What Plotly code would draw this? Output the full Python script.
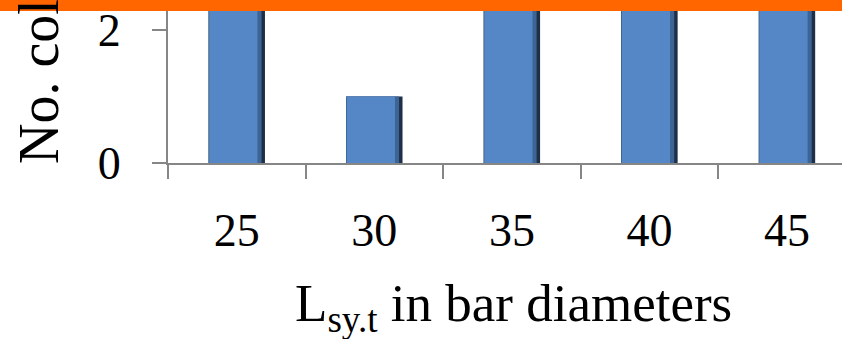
import plotly.graph_objects as go

categories = ["25", "30", "35", "40", "45"]
counts = [3, 1, 3, 3, 3]
y_ticks = [0, 2]
x_title = "L<sub>sy.t</sub> in bar diameters"
y_title = "No. columns"

W, H = 842, 339
ML, MB = 168, 176
plot_h = H - MB
FONT = "Liberation Serif, Times New Roman, serif"

fig = go.Figure()
# bevelled look: dark base, mid-tone, light face
fig.add_trace(go.Bar(x=categories, y=counts, width=0.41, offset=-0.205,
                     marker=dict(color="#1E2F47", line=dict(width=0)), hoverinfo="skip"))
fig.add_trace(go.Bar(x=categories, y=counts, width=0.385, offset=-0.205,
                     marker=dict(color="#3C6495", line=dict(width=0)), hoverinfo="skip"))
fig.add_trace(go.Bar(x=categories, y=counts, width=0.35, offset=-0.2,
                     marker=dict(color="#5587C6", line=dict(width=0))))

fig.update_layout(
    width=W, height=H,
    barmode="overlay",
    showlegend=False,
    plot_bgcolor="white", paper_bgcolor="white",
    margin=dict(l=ML, r=0, t=0, b=MB, autoexpand=False),
    font=dict(family=FONT, color="black"),
)
fig.update_xaxes(
    type="category", range=[-0.5, 4.4],
    tickson="boundaries", ticks="outside", ticklen=14, tickwidth=2, tickcolor="#868686",
    showline=True, linecolor="#868686", linewidth=2,
    showgrid=False, zeroline=False,
    tickfont=dict(size=46, family=FONT), ticklabelstandoff=26,
)
fig.update_yaxes(
    range=[0, 2.451], tickvals=y_ticks, ticktext=[str(v) for v in y_ticks],
    ticks="outside", ticklen=14, tickwidth=2, tickcolor="#868686",
    showline=True, linecolor="#868686", linewidth=2,
    showgrid=False, zeroline=False,
    tickfont=dict(size=46, family=FONT), ticklabelstandoff=22,
)

# x-axis title
fig.add_annotation(text=x_title, xref="paper", yref="paper",
                   x=(513 - ML) / (W - ML), y=-(339 - plot_h) / plot_h - 3 / plot_h,
                   xanchor="center", yanchor="bottom", showarrow=False,
                   font=dict(size=53, family=FONT, color="black"))
# y-axis title (cropped in reference)
fig.add_annotation(text=y_title, xref="paper", yref="paper",
                   x=(39 - ML) / (W - ML), y=(plot_h - 166) / plot_h,
                   xanchor="center", yanchor="bottom", textangle=-90, showarrow=False,
                   font=dict(size=56, family=FONT, color="black"))

# orange band across top
fig.add_shape(type="rect", xref="paper", yref="paper",
              x0=-ML / (W - ML), x1=1.01, y0=1 - 11 / plot_h, y1=1.01,
              fillcolor="#FF6600", line=dict(width=0), layer="above")

fig.write_html("out.html", config={"displayModeBar": False},
               post_script="document.body.style.margin='0';document.body.style.overflow='hidden';")
